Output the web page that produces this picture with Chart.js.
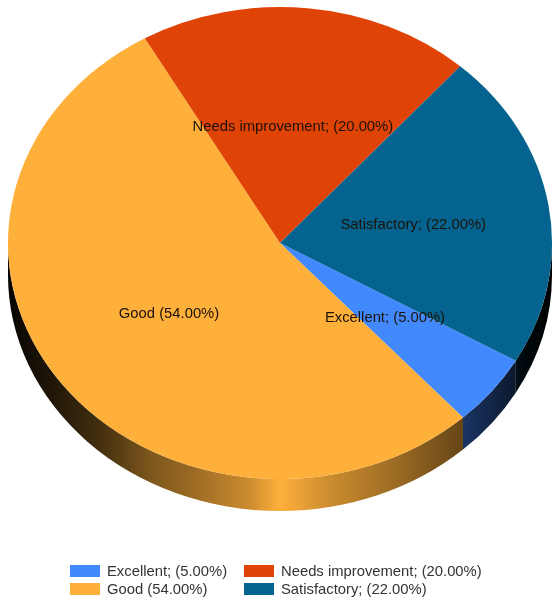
<!DOCTYPE html>
<html>
<head>
<meta charset="utf-8">
<title>Pie</title>
<script src="https://cdn.jsdelivr.net/npm/chart.js@4"></script>
<style>
  html, body { margin: 0; padding: 0; background: #fff; }
  canvas { display: block; filter: blur(0.4px); }
</style>
</head>
<body>
<canvas id="pie" width="555" height="600"></canvas>
<script>
// ---------- data ----------
const categories = ['Excellent', 'Good', 'Needs improvement', 'Satisfactory'];
const values     = [5, 54, 20, 22];
const sliceText  = ['Excellent; (5.00%)', 'Good (54.00%)', 'Needs improvement; (20.00%)', 'Satisfactory; (22.00%)'];
const colors     = ['#4289fd', '#ffb03b', '#e04306', '#04648f'];

// ---------- look of the fake 3d ----------
const FLAT = 236 / 272;      // squash of the disc
const TOP_Y = 243;           // where the centre of the top face lands
const DEPTH = 32;            // wall height
const FONT = '14.8px "Liberation Sans", Arial, sans-serif';
// wall brightness against distance from the centre (0..1), the left side is darker
const shadeLeft  = [[0, 1], [0.11, 0.8], [0.33, 0.6], [0.48, 0.49], [0.66, 0.27], [0.85, 0.12], [1, 0.03]];
const shadeRight = [[0, 1], [0.18, 0.8], [0.44, 0.6], [0.59, 0.47], [0.67, 0.4], [0.85, 0.2], [0.9, 0.08], [1, 0.02]];

function darker (hex, t) {
  const n = parseInt(hex.slice(1), 16);
  return `rgb(${(n >> 16) * t | 0},${((n >> 8) & 255) * t | 0},${(n & 255) * t | 0})`;
}

function wallGradient (ctx, cx, rx, color) {
  const g = ctx.createLinearGradient(cx - rx, 0, cx + rx, 0);
  shadeLeft.forEach(([d, t]) => g.addColorStop((1 - d) / 2, darker(color, t)));
  shadeRight.forEach(([d, t]) => g.addColorStop((1 + d) / 2, darker(color, t)));
  return g;
}

const fake3d = {
  id: 'fake3d',
  beforeDatasetsDraw (chart) {
    const ctx = chart.ctx;
    const arcs = chart.getDatasetMeta(0).data;
    // walls, only the part of each slice facing us
    arcs.forEach((arc, i) => {
      const { x, outerRadius: r, startAngle, endAngle } = arc;
      const ry = r * FLAT;
      for (const off of [0, 2 * Math.PI, -2 * Math.PI]) {
        const a = Math.max(startAngle + off, 0), b = Math.min(endAngle + off, Math.PI);
        if (b <= a) continue;
        ctx.beginPath();
        ctx.ellipse(x, TOP_Y, r, ry, 0, a, b);
        ctx.ellipse(x, TOP_Y + DEPTH, r, ry, 0, b, a, true);
        ctx.closePath();
        ctx.fillStyle = wallGradient(ctx, x, r, colors[i]);
        ctx.fill();
      }
    });
    // squash the slices the library is about to draw
    const y0 = arcs[0].y;
    ctx.save();
    ctx.translate(0, TOP_Y);
    ctx.scale(1, FLAT);
    ctx.translate(0, -y0);
  },
  afterDatasetsDraw (chart) {
    const ctx = chart.ctx;
    ctx.restore();
    const arcs = chart.getDatasetMeta(0).data;

    // slice labels
    ctx.font = FONT;
    ctx.fillStyle = '#1c1208';
    ctx.textAlign = 'center';
    ctx.textBaseline = 'middle';
    arcs.forEach((arc, i) => {
      const p = arc.getCenterPoint();
      ctx.fillText(sliceText[i], p.x - 1, TOP_Y + (p.y - arc.y) * FLAT + 1);
    });

    // legend, filled column by column
    ctx.textAlign = 'left';
    sliceText.forEach((txt, i) => {
      const col = Math.floor(i / 2), row = i % 2;
      const sx = 70 + col * 174, sy = 565 + row * 18;
      ctx.fillStyle = colors[i];
      ctx.fillRect(sx, sy, 30, 12);
      ctx.fillStyle = '#333';
      ctx.fillText(txt, sx + 37, sy + 7);
    });
  }
};

new Chart(document.getElementById('pie'), {
  type: 'pie',
  data: {
    labels: categories,
    datasets: [{ data: values, backgroundColor: colors, borderWidth: 0, clip: false }]
  },
  options: {
    responsive: false,
    animation: false,
    rotation: 119.9,
    layout: { padding: { left: 8, right: 3, top: 0, bottom: 56 } },
    plugins: { legend: { display: false }, tooltip: { enabled: false } }
  },
  plugins: [fake3d]
});
</script>
</body>
</html>
